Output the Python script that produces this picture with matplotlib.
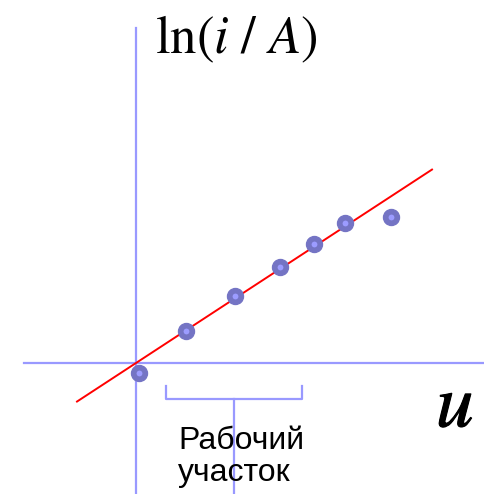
import matplotlib
matplotlib.use("Agg")
import matplotlib.pyplot as plt
import matplotlib.patheffects as pe
import numpy as np

# measured points: u and ln(i/A), arbitrary units
u_vals = [0.06, 1.00, 1.98, 2.88, 3.56, 4.18, 5.10]
ln_vals = [-0.20, 0.64, 1.34, 1.92, 2.38, 2.80, 2.92]

# straight line through the working region
fit_slope = 0.6535
fit_u = [-1.18, 5.92]

# working region bracket
work_range = [0.60, 3.32]

AXIS_COLOR = '#9999ff'

plt.rcParams['mathtext.fontset'] = 'stix'

fig = plt.figure(figsize=(4.85, 4.94), dpi=100)
ax = fig.add_axes([0, 0, 1, 1])
ax.set_xlim(-2.72, 6.98)
ax.set_ylim(-2.62, 7.26)
ax.axis('off')

# coordinate axes
ax.plot([-2.24, 6.98], [0, 0], color=AXIS_COLOR, lw=1.6, zorder=1)
ax.plot([0, 0], [-2.62, 6.70], color=AXIS_COLOR, lw=1.6, zorder=1)

# fitted line
fu = np.array(fit_u)
ax.plot(fu, fit_slope * fu, color='red', lw=1.4, zorder=2)

# data points
ax.plot(u_vals, ln_vals, 'o', ms=11.5, color='#7474c4', mec='#7474c4', zorder=3)
ax.plot(u_vals, ln_vals, 'o', ms=4.2, color='#9c9cff', mec='none', zorder=4)

# bracket marking the working region
x0, x1 = work_range
xm = (x0 + x1) / 2
ax.plot([x0, x0, x1, x1], [-0.46, -0.72, -0.72, -0.46], color=AXIS_COLOR, lw=1.6, zorder=1)
ax.plot([xm, xm], [-0.72, -2.62], color=AXIS_COLOR, lw=1.6, zorder=1)

ax.text(0.84, -1.72, 'Рабочий', fontsize=23, family='Liberation Sans', va='baseline', ha='left')
ax.text(0.84, -2.36, 'участок', fontsize=23, family='Liberation Sans', va='baseline', ha='left')

# axis labels
ax.text(0.38, 6.20, r'$\mathrm{ln}(i\ /\ A)$', fontsize=38, va='baseline', ha='left')
ax.text(6.0, -1.28, r'$u$', fontsize=54, va='baseline', ha='left',
        path_effects=[pe.withStroke(linewidth=0.8, foreground='black')])

fig.savefig('out.png', dpi=100)
